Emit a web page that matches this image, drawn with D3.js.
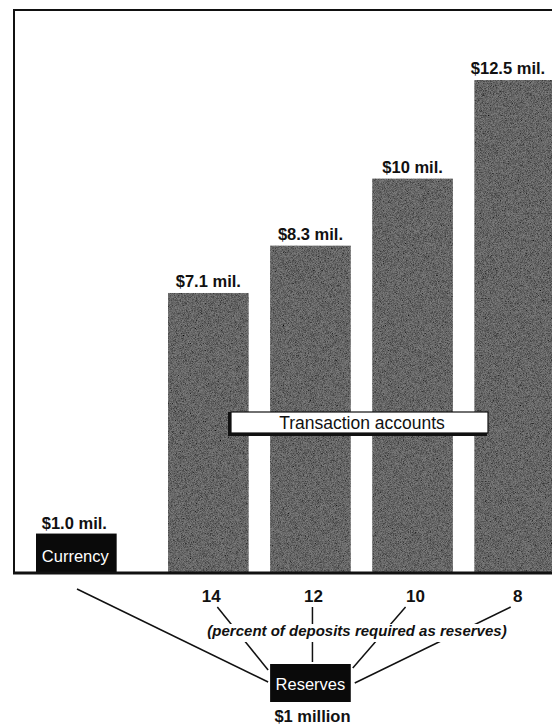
<!DOCTYPE html>
<html>
<head>
<meta charset="utf-8">
<script src="https://cdn.jsdelivr.net/npm/d3@7"></script>
<style>
  body { margin: 0; background: #fff; }
  svg { display: block; font-family: "Liberation Sans", Arial, Helvetica, sans-serif; }
</style>
</head>
<body>
<svg id="chart"></svg>
<script>
// data
var reserveRatios = ["14", "12", "10", "8"];          // percent of deposits required as reserves
var depositValues = [7.1, 8.3, 10, 12.5];             // transaction accounts, $ millions
var depositLabels = ["$7.1 mil.", "$8.3 mil.", "$10 mil.", "$12.5 mil."];
var currencyValue = 1.0;
var currencyLabel = "$1.0 mil.";
var reservesLabel = "$1 million";

var width = 552;
var height = 728;

var svg = d3.select("#chart")
  .attr("width", width)
  .attr("height", height);

// grainy halftone look for the bars
var defs = svg.append("defs");
var grain = defs.append("filter")
  .attr("id", "grain")
  .attr("x", 0).attr("y", 0).attr("width", 1).attr("height", 1);
grain.append("feTurbulence")
  .attr("type", "fractalNoise")
  .attr("baseFrequency", 1.4)
  .attr("numOctaves", 2)
  .attr("seed", 3)
  .attr("result", "noise");
grain.append("feColorMatrix")
  .attr("in", "noise")
  .attr("type", "matrix")
  .attr("values", "0 0 0 0 0  0 0 0 0 0  0 0 0 0 0  0 0 0 -1.6 1.15")
  .attr("result", "dots");
grain.append("feComposite")
  .attr("in", "dots")
  .attr("in2", "SourceGraphic")
  .attr("operator", "atop");

// scales
var baseY = 573;
var y = d3.scaleLinear()
  .domain([0, 12.5])
  .range([baseY, 80]);

var x = d3.scaleBand()
  .domain(reserveRatios)
  .range([168, 168 + 387])
  .paddingInner(0.21)
  .paddingOuter(0);

var bw = x.bandwidth();
var currencyX = 36;

var rows = reserveRatios.map(function (r, i) {
  return { ratio: r, value: depositValues[i], label: depositLabels[i] };
});

// frame
var frame = svg.append("g");
frame.append("line")
  .attr("x1", 14).attr("x2", 14)
  .attr("y1", 10).attr("y2", baseY)
  .attr("stroke", "#111").attr("stroke-width", 2);
frame.append("line")
  .attr("x1", 13).attr("x2", width)
  .attr("y1", 10).attr("y2", 10)
  .attr("stroke", "#111").attr("stroke-width", 2);

// transaction account bars
var bars = svg.append("g");
bars.selectAll("rect")
  .data(rows)
  .enter()
  .append("rect")
  .attr("x", function (d) { return x(d.ratio); })
  .attr("y", function (d) { return y(d.value); })
  .attr("width", bw)
  .attr("height", function (d) { return baseY - y(d.value); })
  .attr("fill", "#7c7c7c")
  .attr("filter", "url(#grain)");

bars.selectAll("text")
  .data(rows)
  .enter()
  .append("text")
  .attr("x", function (d) { return Math.min(x(d.ratio) + bw / 2, 508); })
  .attr("y", function (d) { return y(d.value) - 6; })
  .attr("text-anchor", "middle")
  .attr("font-size", 16.5)
  .attr("font-weight", "bold")
  .attr("fill", "#111")
  .text(function (d) { return d.label; });

// currency box
svg.append("rect")
  .attr("x", currencyX)
  .attr("y", y(currencyValue))
  .attr("width", bw)
  .attr("height", baseY - y(currencyValue))
  .attr("fill", "#0a0a0a");
svg.append("text")
  .attr("x", currencyX + bw / 2 - 1)
  .attr("y", y(currencyValue) + 28)
  .attr("text-anchor", "middle")
  .attr("font-size", 16.5)
  .attr("fill", "#fff")
  .text("Currency");
svg.append("text")
  .attr("x", currencyX + bw / 2 - 2)
  .attr("y", y(currencyValue) - 5)
  .attr("text-anchor", "middle")
  .attr("font-size", 16.5)
  .attr("font-weight", "bold")
  .attr("fill", "#111")
  .text(currencyLabel);

// baseline
svg.append("line")
  .attr("x1", 13).attr("x2", width)
  .attr("y1", baseY).attr("y2", baseY)
  .attr("stroke", "#111").attr("stroke-width", 3);

// "Transaction accounts" label box
var ta = svg.append("g");
ta.append("rect")
  .attr("x", 228).attr("y", 412)
  .attr("width", 259).attr("height", 24)
  .attr("fill", "#111");
ta.append("rect")
  .attr("x", 231).attr("y", 412)
  .attr("width", 257).attr("height", 21)
  .attr("fill", "#fff")
  .attr("stroke", "#111").attr("stroke-width", 1.2);
ta.append("text")
  .attr("x", 362).attr("y", 429)
  .attr("text-anchor", "middle")
  .attr("font-size", 17.5)
  .attr("fill", "#111")
  .text("Transaction accounts");

// reserves box under the 12 percent bar
var boxX = x("12");
var boxTop = 664;
var boxBottom = 702;
var boxCx = boxX + bw / 2;

// connecting lines from the ratio labels and from the currency box
var tickY = 607;
var ends = [
  [boxX - 2, boxTop + 6],
  [boxCx + 2, boxTop - 2],
  [boxX + bw + 2, boxTop + 4],
  [boxX + bw + 4, boxTop + 19]
];
var starts = [7, 0, -9, -6];

var links = svg.append("g")
  .attr("stroke", "#111")
  .attr("stroke-width", 1.5);
rows.forEach(function (d, i) {
  links.append("line")
    .attr("x1", x(d.ratio) + bw / 2 + 2 + starts[i])
    .attr("y1", tickY)
    .attr("x2", ends[i][0])
    .attr("y2", ends[i][1]);
});
links.append("line")
  .attr("x1", 77).attr("y1", 589)
  .attr("x2", boxX - 2).attr("y2", boxTop + 18);

// ratio labels
svg.append("g")
  .selectAll("text")
  .data(rows)
  .enter()
  .append("text")
  .attr("x", function (d) { return x(d.ratio) + bw / 2 + 3; })
  .attr("y", 602)
  .attr("text-anchor", "middle")
  .attr("font-size", 17)
  .attr("font-weight", "bold")
  .attr("fill", "#111")
  .text(function (d) { return d.ratio; });

// note text with white backing that breaks the lines
var note = svg.append("g");
var noteRect = note.append("rect").attr("fill", "#fff");
var noteText = note.append("text")
  .attr("x", 357).attr("y", 636)
  .attr("text-anchor", "middle")
  .attr("font-size", 15)
  .attr("font-weight", "bold")
  .attr("font-style", "italic")
  .attr("fill", "#111")
  .text("(percent of deposits required as reserves)");
var bb = noteText.node().getBBox();
noteRect
  .attr("x", bb.x - 2).attr("y", 624)
  .attr("width", bb.width + 4).attr("height", 18);

// reserves box
svg.append("rect")
  .attr("x", boxX)
  .attr("y", boxTop)
  .attr("width", bw)
  .attr("height", boxBottom - boxTop)
  .attr("fill", "#0a0a0a");
svg.append("text")
  .attr("x", boxCx)
  .attr("y", boxTop + 26)
  .attr("text-anchor", "middle")
  .attr("font-size", 16.5)
  .attr("fill", "#fff")
  .text("Reserves");
svg.append("text")
  .attr("x", boxCx + 2)
  .attr("y", 722)
  .attr("text-anchor", "middle")
  .attr("font-size", 16.5)
  .attr("font-weight", "bold")
  .attr("fill", "#111")
  .text(reservesLabel);
</script>
</body>
</html>
